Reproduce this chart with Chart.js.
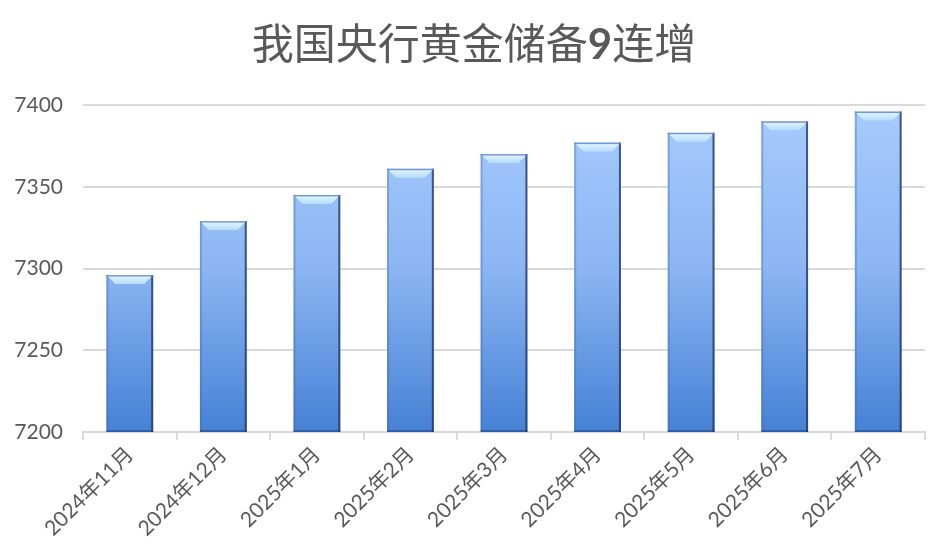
<!DOCTYPE html>
<html>
<head>
<meta charset="utf-8">
<script src="https://cdn.jsdelivr.net/npm/chart.js@4"></script>
<style>
  html, body { margin: 0; padding: 0; background: #fff; }
  #wrap { width: 934px; height: 560px; }
</style>
</head>
<body>
<div id="wrap"><canvas id="gold_chart"></canvas></div>
<script>
// 数据
const months = ['2024年11月', '2024年12月', '2025年1月', '2025年2月', '2025年3月', '2025年4月', '2025年5月', '2025年6月', '2025年7月'];
const reserves = [7296, 7329, 7345, 7361, 7370, 7377, 7383, 7390, 7396];
const yTicks = [7200, 7250, 7300, 7350, 7400];
const titleParts = [['我国央行黄金储备', 'normal'], ['9', 'bold'], ['连增', 'normal']];

const fontFamily = "Lato, 'Noto Sans CJK SC', sans-serif";
const textColor = '#595959';
const gridColor = '#d9d9d9';

// 柱子的渐变填充
function barGradient(context) {
    const chart = context.chart;
    const area = chart.chartArea;
    if (!area) return '#8fb8f3';
    const g = chart.ctx.createLinearGradient(0, area.top, 0, area.bottom);
    g.addColorStop(0, '#a7cbfc');
    g.addColorStop(0.5, '#8cb6f3');
    g.addColorStop(1, '#4681d5');
    return g;
}

// 标题 (9 加粗)
const titlePlugin = {
    id: 'richTitle',
    afterDraw(chart) {
        const ctx = chart.ctx;
        const size = 42;
        ctx.save();
        ctx.fillStyle = textColor;
        ctx.textBaseline = 'middle';
        ctx.textAlign = 'left';
        let total = 0;
        titleParts.forEach(([t, w]) => {
            ctx.font = w + ' ' + size + 'px ' + fontFamily;
            total += ctx.measureText(t).width;
        });
        let x = 474 - total / 2;
        titleParts.forEach(([t, w]) => {
            ctx.font = w + ' ' + size + 'px ' + fontFamily;
            ctx.fillText(t, x, 45);
            x += ctx.measureText(t).width;
        });
        ctx.restore();
    }
};

// 顶部斜面和侧边阴影
const bevelPlugin = {
    id: 'bevel',
    afterDatasetsDraw(chart) {
        const ctx = chart.ctx;
        const area = chart.chartArea;
        chart.getDatasetMeta(0).data.forEach(bar => {
            const left = bar.x - bar.width / 2;
            const right = bar.x + bar.width / 2;
            const top = bar.y;
            const bottom = Math.min(bar.base, area.bottom);
            const b = 9;
            ctx.save();
            // 顶部亮斜面
            const tg = ctx.createLinearGradient(0, top, 0, top + b);
            tg.addColorStop(0, '#e6f6ff');
            tg.addColorStop(1, '#b5dcfd');
            ctx.fillStyle = tg;
            ctx.beginPath();
            ctx.moveTo(left, top);
            ctx.lineTo(right, top);
            ctx.lineTo(right - b, top + b);
            ctx.lineTo(left + b, top + b);
            ctx.closePath();
            ctx.fill();
            // 左侧
            ctx.fillStyle = 'rgba(60,100,170,0.35)';
            ctx.fillRect(left, top, 2, bottom - top);
            // 右侧
            ctx.fillStyle = 'rgba(30,50,90,0.75)';
            ctx.fillRect(right - 2, top, 2, bottom - top);
            // 底部
            ctx.fillStyle = 'rgba(30,60,120,0.5)';
            ctx.fillRect(left, bottom - 2, right - left, 2);
            // 顶边
            ctx.fillStyle = 'rgba(90,130,200,0.8)';
            ctx.fillRect(left, top, right - left, 1.5);
            ctx.restore();
        });
    }
};

const ctxGold = document.getElementById('gold_chart').getContext('2d');
const goldChart = new Chart(ctxGold, {
    type: 'bar',
    data: {
        labels: months,
        datasets: [{
            label: '黄金储备',
            data: reserves,
            backgroundColor: barGradient,
            borderWidth: 0,
            barPercentage: 0.5,
            categoryPercentage: 1
        }]
    },
    options: {
        responsive: true,
        maintainAspectRatio: false,
        animation: false,
        layout: { padding: { left: 0, right: 9, top: 105, bottom: 0 } },
        plugins: {
            legend: { display: false },
            tooltip: { enabled: false },
            title: { display: false }
        },
        scales: {
            x: {
                grid: {
                    offset: true,
                    drawOnChartArea: false,
                    drawTicks: true,
                    tickLength: 8,
                    color: gridColor,
                    lineWidth: 2
                },
                border: { display: true, color: gridColor, width: 2 },
                ticks: {
                    color: textColor,
                    font: { family: fontFamily, size: 21 },
                    minRotation: 45,
                    maxRotation: 45,
                    padding: 2
                },
                afterFit(scale) { scale.height = 128; }
            },
            y: {
                min: 7200,
                max: 7400,
                afterBuildTicks(scale) { scale.ticks = yTicks.map(v => ({ value: v })); },
                grid: { color: gridColor, lineWidth: 2, drawTicks: false },
                border: { display: false },
                ticks: {
                    color: textColor,
                    font: { family: fontFamily, size: 21 },
                    padding: 20,
                    callback: v => String(v)
                },
                afterFit(scale) { scale.width = 83; }
            }
        }
    },
    plugins: [bevelPlugin, titlePlugin]
});
</script>
</body>
</html>
